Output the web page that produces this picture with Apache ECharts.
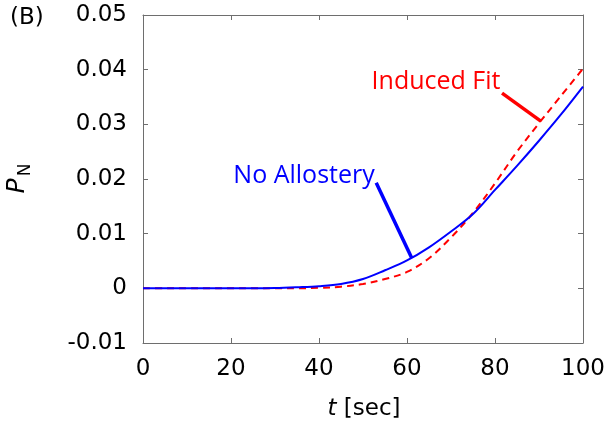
<!DOCTYPE html>
<html>
<head>
<meta charset="utf-8">
<script src="https://cdn.jsdelivr.net/npm/echarts@6/dist/echarts.min.js"></script>
<style>html,body{margin:0;padding:0;background:#fff;}#c{width:614px;height:429px;}</style>
</head>
<body>
<div id="c"></div>
<script>
var timeSec = [0,5,10,15,20,25,30,35,40,45,50,55,60,65,70,75,80,85,90,95,100];
var noAllostery = [0,0,0,0,0,0,0.00005,0.0002,0.0004,0.0008,0.0017,0.0033,0.0051,0.0075,0.0104,0.0136,0.0180,0.0224,0.0270,0.0318,0.0369];
var inducedFit  = [0,0,0,0,0,0,0,0,0.0001,0.0003,0.0008,0.0017,0.0030,0.0055,0.0093,0.0138,0.0192,0.0250,0.0302,0.0352,0.0402];
var xTickLabels = ['0','20','40','60','80','100'];
var yTickLabels = ['-0.01','0','0.01','0.02','0.03','0.04','0.05'];

var FONT = 'DejaVu Sans';
var AX = '#6e6e6e';
function pairs(ys){ return timeSec.map(function(t,i){ return [t, ys[i]]; }); }
function axisBase(){
  return {
    axisLine:{show:true, onZero:false, lineStyle:{color:AX, width:1}},
    axisTick:{show:true, inside:true, length:5, lineStyle:{color:AX}},
    splitLine:{show:false}
  };
}

var chart = echarts.init(document.getElementById('c'), null, {renderer:'canvas'});
chart.setOption({
  animation:false,
  backgroundColor:'#fff',
  grid:{left:143, right:31, top:15, bottom:86, containLabel:false},
  xAxis:[Object.assign(axisBase(), {
    type:'value', min:0, max:100, interval:20, position:'bottom',
    axisLabel:{margin:15, fontSize:23, fontFamily:FONT, color:'#000',
      formatter:function(v){ return xTickLabels[Math.round(v/20)]; }}
  }), Object.assign(axisBase(), {
    type:'value', min:0, max:100, interval:20, position:'top',
    axisLabel:{show:false}
  })],
  yAxis:[Object.assign(axisBase(), {
    type:'value', min:-0.01, max:0.05, interval:0.01, position:'left',
    axisLabel:{margin:16, fontSize:23, fontFamily:FONT, color:'#000',
      formatter:function(v){ return yTickLabels[Math.round((v+0.01)/0.01)]; }}
  }), Object.assign(axisBase(), {
    type:'value', min:-0.01, max:0.05, interval:0.01, position:'right',
    axisLabel:{show:false}
  })],
  series:[{
    name:'No Allostery', type:'line', data:pairs(noAllostery),
    showSymbol:false, smooth:0.35,
    lineStyle:{color:'#0000ff', width:2}, z:3,
    markLine:{silent:true, symbol:'none', animation:false,
      lineStyle:{color:'#0000ff', width:3.5, type:'solid'},
      label:{show:false},
      data:[[{coord:[53.0,0.0193]},{coord:[61.1,0.0055]}]]},
    markPoint:{silent:true, symbol:'circle', symbolSize:0,
      label:{show:true, position:'inside', formatter:'No Allostery', color:'#0000ff',
        fontSize:25, fontFamily:'Open Sans'},
      data:[{coord:[36.6,0.0206]}]}
  },{
    name:'Induced Fit', type:'line', data:pairs(inducedFit),
    showSymbol:false, smooth:0.35,
    lineStyle:{color:'#ff0000', width:2, type:[7,5]}, z:2,
    markLine:{silent:true, symbol:'none', animation:false,
      lineStyle:{color:'#ff0000', width:3.5, type:'solid'},
      label:{show:false},
      data:[[{coord:[81.6,0.0357]},{coord:[90.4,0.0306]}]]},
    markPoint:{silent:true, symbol:'circle', symbolSize:0,
      label:{show:true, position:'inside', formatter:'Induced Fit', color:'#ff0000',
        fontSize:25, fontFamily:'Open Sans'},
      data:[{coord:[66.6,0.0378]}]}
  }],
  graphic:[
    {type:'text', left:10, top:7, style:{text:'(B)', fontSize:23, fontFamily:FONT, fill:'#000'}},
    {type:'text', x:17, y:186, rotation:Math.PI/2, style:{text:'P', fontSize:25, fontStyle:'italic', fontFamily:FONT, fill:'#000', align:'center', verticalAlign:'middle'}},
    {type:'text', x:26, y:170, rotation:Math.PI/2, style:{text:'N', fontSize:17, fontFamily:FONT, fill:'#000', align:'center', verticalAlign:'middle'}},
    {type:'text', x:364, y:409, style:{text:'{i|t} [sec]', rich:{i:{fontStyle:'italic', fontSize:23, fontFamily:FONT}}, fontSize:23, fontFamily:FONT, fill:'#000', align:'center', verticalAlign:'middle'}}
  ]
});
</script>
</body>
</html>
